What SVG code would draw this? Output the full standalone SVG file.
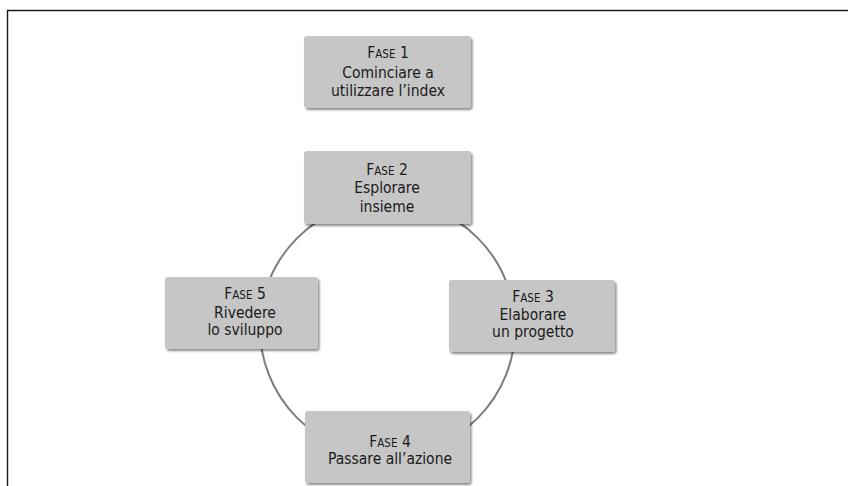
<svg xmlns="http://www.w3.org/2000/svg" width="848" height="486" viewBox="0 0 848 486">
<defs>
<filter id="sh" x="-10%" y="-10%" width="125%" height="130%">
<feDropShadow dx="1.5" dy="2" stdDeviation="1.3" flood-color="#000" flood-opacity="0.45"/>
</filter>
</defs>
<style>
.box{fill:#c6c6c6;filter:url(#sh)}
.t{font-family:"DejaVu Sans Condensed","DejaVu Sans",sans-serif;font-stretch:condensed;font-size:15.5px;fill:#1a1a1a;text-anchor:middle}
.sc{font-size:11.5px}
.frame{stroke:#1a1a1a;stroke-width:1.4;fill:none}
.ring{stroke:#7c7c7c;stroke-width:2;fill:none}
</style>
<rect width="848" height="486" fill="#fff"/>
<path class="frame" d="M7.5,486 V10.5 H848"/>
<g id="connectors">
<circle class="ring" cx="387.5" cy="328" r="127.5"/>
</g>
<g id="fase1">
<rect class="box" x="304" y="36" width="167" height="72" rx="3"/>
<text class="t" x="388" y="58">F<tspan class="sc">ASE</tspan> 1</text>
<text class="t" x="388" y="78">Cominciare a</text>
<text class="t" x="388" y="96">utilizzare l’index</text>
</g>
<g id="fase2">
<rect class="box" x="304" y="151" width="167" height="73" rx="3"/>
<text class="t" x="387" y="175">F<tspan class="sc">ASE</tspan> 2</text>
<text class="t" x="387" y="193">Esplorare</text>
<text class="t" x="387" y="212">insieme</text>
</g>
<g id="fase3">
<rect class="box" x="449" y="280" width="166" height="72" rx="3"/>
<text class="t" x="533" y="302">F<tspan class="sc">ASE</tspan> 3</text>
<text class="t" x="533" y="320">Elaborare</text>
<text class="t" x="533" y="337">un progetto</text>
</g>
<g id="fase4">
<rect class="box" x="305" y="411" width="165" height="72" rx="3"/>
<text class="t" x="390" y="447">F<tspan class="sc">ASE</tspan> 4</text>
<text class="t" x="390" y="464">Passare all’azione</text>
</g>
<g id="fase5">
<rect class="box" x="165" y="277" width="153" height="72" rx="3"/>
<text class="t" x="245" y="299">F<tspan class="sc">ASE</tspan> 5</text>
<text class="t" x="245" y="318">Rivedere</text>
<text class="t" x="245" y="335">lo sviluppo</text>
</g>
</svg>
